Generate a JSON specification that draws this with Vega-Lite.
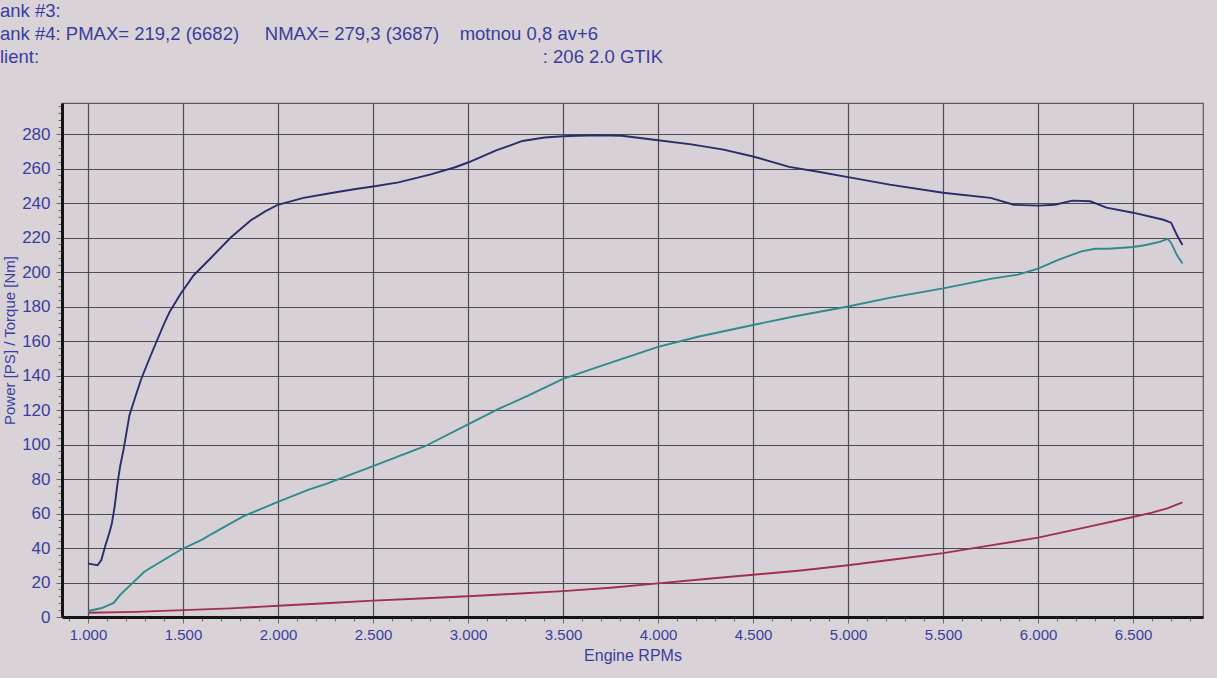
{
  "$schema": "https://vega.github.io/schema/vega-lite/v6.json",
  "autosize": "none",
  "width": 1141,
  "height": 514,
  "padding": {"left": 62, "top": 103, "right": 14, "bottom": 61},
  "background": "#d9d3d8",
  "config": {
    "view": {"fill": "#d7d1d7", "stroke": "#5a5860", "strokeWidth": 1.2},
    "font": "Liberation Sans"
  },
  "title": {
    "text": [
      "ank #3:",
      "ank #4: PMAX= 219,2 (6682)\u00a0\u00a0\u00a0\u00a0\u00a0NMAX= 279,3 (3687)\u00a0\u00a0\u00a0\u00a0motnou 0,8 av+6",
      "lient:\u00a0\u00a0\u00a0\u00a0\u00a0\u00a0\u00a0\u00a0\u00a0\u00a0\u00a0\u00a0\u00a0\u00a0\u00a0\u00a0\u00a0\u00a0\u00a0\u00a0\u00a0\u00a0\u00a0\u00a0\u00a0\u00a0\u00a0\u00a0\u00a0\u00a0\u00a0\u00a0\u00a0\u00a0\u00a0\u00a0\u00a0\u00a0\u00a0\u00a0\u00a0\u00a0\u00a0\u00a0\u00a0\u00a0\u00a0\u00a0\u00a0\u00a0\u00a0\u00a0\u00a0\u00a0\u00a0\u00a0\u00a0\u00a0\u00a0\u00a0\u00a0\u00a0\u00a0\u00a0\u00a0\u00a0\u00a0\u00a0\u00a0\u00a0\u00a0\u00a0\u00a0\u00a0\u00a0\u00a0\u00a0\u00a0\u00a0\u00a0\u00a0\u00a0\u00a0\u00a0\u00a0\u00a0\u00a0\u00a0\u00a0\u00a0\u00a0\u00a0\u00a0\u00a0\u00a0\u00a0\u00a0\u00a0: 206 2.0 GTIK"
    ],
    "anchor": "start",
    "frame": "group",
    "dx": -62,
    "offset": 37,
    "fontSize": 18.5,
    "fontWeight": "normal",
    "color": "#3b3d9e",
    "lineHeight": 23,
    "font": "Liberation Sans"
  },
  "data": {
    "values": [
      {"rpm": 1000, "value": 31, "series": "Torque"},
      {"rpm": 1025, "value": 30.5, "series": "Torque"},
      {"rpm": 1050, "value": 30, "series": "Torque"},
      {"rpm": 1070, "value": 33, "series": "Torque"},
      {"rpm": 1090, "value": 41, "series": "Torque"},
      {"rpm": 1110, "value": 48, "series": "Torque"},
      {"rpm": 1125, "value": 54, "series": "Torque"},
      {"rpm": 1140, "value": 64, "series": "Torque"},
      {"rpm": 1156, "value": 78, "series": "Torque"},
      {"rpm": 1170, "value": 88, "series": "Torque"},
      {"rpm": 1187, "value": 97, "series": "Torque"},
      {"rpm": 1218, "value": 117, "series": "Torque"},
      {"rpm": 1250, "value": 128, "series": "Torque"},
      {"rpm": 1280, "value": 138, "series": "Torque"},
      {"rpm": 1320, "value": 149, "series": "Torque"},
      {"rpm": 1358, "value": 159, "series": "Torque"},
      {"rpm": 1400, "value": 170, "series": "Torque"},
      {"rpm": 1430, "value": 177, "series": "Torque"},
      {"rpm": 1485, "value": 187, "series": "Torque"},
      {"rpm": 1555, "value": 198, "series": "Torque"},
      {"rpm": 1645, "value": 208, "series": "Torque"},
      {"rpm": 1751, "value": 220, "series": "Torque"},
      {"rpm": 1857, "value": 230, "series": "Torque"},
      {"rpm": 1930, "value": 235, "series": "Torque"},
      {"rpm": 1999, "value": 239, "series": "Torque"},
      {"rpm": 2134, "value": 243, "series": "Torque"},
      {"rpm": 2289, "value": 246, "series": "Torque"},
      {"rpm": 2400, "value": 248, "series": "Torque"},
      {"rpm": 2500, "value": 249.6, "series": "Torque"},
      {"rpm": 2634, "value": 252, "series": "Torque"},
      {"rpm": 2804, "value": 256.6, "series": "Torque"},
      {"rpm": 2928, "value": 260.6, "series": "Torque"},
      {"rpm": 3000, "value": 263.5, "series": "Torque"},
      {"rpm": 3148, "value": 270.5, "series": "Torque"},
      {"rpm": 3286, "value": 276, "series": "Torque"},
      {"rpm": 3403, "value": 278, "series": "Torque"},
      {"rpm": 3500, "value": 278.7, "series": "Torque"},
      {"rpm": 3571, "value": 279, "series": "Torque"},
      {"rpm": 3687, "value": 279.3, "series": "Torque"},
      {"rpm": 3810, "value": 279, "series": "Torque"},
      {"rpm": 4000, "value": 276.4, "series": "Torque"},
      {"rpm": 4175, "value": 274, "series": "Torque"},
      {"rpm": 4345, "value": 271, "series": "Torque"},
      {"rpm": 4500, "value": 267, "series": "Torque"},
      {"rpm": 4690, "value": 261, "series": "Torque"},
      {"rpm": 4850, "value": 258, "series": "Torque"},
      {"rpm": 5000, "value": 255, "series": "Torque"},
      {"rpm": 5219, "value": 250.7, "series": "Torque"},
      {"rpm": 5500, "value": 246, "series": "Torque"},
      {"rpm": 5750, "value": 243, "series": "Torque"},
      {"rpm": 5872, "value": 239, "series": "Torque"},
      {"rpm": 6000, "value": 238.5, "series": "Torque"},
      {"rpm": 6088, "value": 239, "series": "Torque"},
      {"rpm": 6180, "value": 241.4, "series": "Torque"},
      {"rpm": 6275, "value": 241, "series": "Torque"},
      {"rpm": 6360, "value": 237.3, "series": "Torque"},
      {"rpm": 6500, "value": 234.4, "series": "Torque"},
      {"rpm": 6660, "value": 230.3, "series": "Torque"},
      {"rpm": 6700, "value": 228.6, "series": "Torque"},
      {"rpm": 6730, "value": 221.6, "series": "Torque"},
      {"rpm": 6760, "value": 215.7, "series": "Torque"},

      {"rpm": 1000, "value": 3.5, "series": "Power"},
      {"rpm": 1073, "value": 5.2, "series": "Power"},
      {"rpm": 1135, "value": 8.2, "series": "Power"},
      {"rpm": 1170, "value": 13, "series": "Power"},
      {"rpm": 1213, "value": 17.5, "series": "Power"},
      {"rpm": 1296, "value": 26.2, "series": "Power"},
      {"rpm": 1400, "value": 33.2, "series": "Power"},
      {"rpm": 1488, "value": 39, "series": "Power"},
      {"rpm": 1603, "value": 45, "series": "Power"},
      {"rpm": 1645, "value": 47.8, "series": "Power"},
      {"rpm": 1816, "value": 58.3, "series": "Power"},
      {"rpm": 1993, "value": 66.5, "series": "Power"},
      {"rpm": 2165, "value": 74, "series": "Power"},
      {"rpm": 2250, "value": 77, "series": "Power"},
      {"rpm": 2500, "value": 87.5, "series": "Power"},
      {"rpm": 2773, "value": 99, "series": "Power"},
      {"rpm": 3000, "value": 111.7, "series": "Power"},
      {"rpm": 3158, "value": 120.5, "series": "Power"},
      {"rpm": 3316, "value": 128.3, "series": "Power"},
      {"rpm": 3500, "value": 138, "series": "Power"},
      {"rpm": 3712, "value": 146, "series": "Power"},
      {"rpm": 4000, "value": 156.6, "series": "Power"},
      {"rpm": 4210, "value": 162.5, "series": "Power"},
      {"rpm": 4500, "value": 169.3, "series": "Power"},
      {"rpm": 4715, "value": 174.2, "series": "Power"},
      {"rpm": 5000, "value": 180, "series": "Power"},
      {"rpm": 5217, "value": 185, "series": "Power"},
      {"rpm": 5500, "value": 190.5, "series": "Power"},
      {"rpm": 5750, "value": 196, "series": "Power"},
      {"rpm": 5894, "value": 198.5, "series": "Power"},
      {"rpm": 6000, "value": 202, "series": "Power"},
      {"rpm": 6106, "value": 207, "series": "Power"},
      {"rpm": 6228, "value": 212, "series": "Power"},
      {"rpm": 6300, "value": 213.5, "series": "Power"},
      {"rpm": 6372, "value": 213.5, "series": "Power"},
      {"rpm": 6500, "value": 214.5, "series": "Power"},
      {"rpm": 6560, "value": 215.5, "series": "Power"},
      {"rpm": 6640, "value": 217.5, "series": "Power"},
      {"rpm": 6682, "value": 219.2, "series": "Power"},
      {"rpm": 6700, "value": 217, "series": "Power"},
      {"rpm": 6730, "value": 210, "series": "Power"},
      {"rpm": 6760, "value": 205, "series": "Power"},

      {"rpm": 1000, "value": 2.5, "series": "Loss"},
      {"rpm": 1250, "value": 3, "series": "Loss"},
      {"rpm": 1500, "value": 4, "series": "Loss"},
      {"rpm": 1750, "value": 5, "series": "Loss"},
      {"rpm": 2000, "value": 6.5, "series": "Loss"},
      {"rpm": 2250, "value": 8, "series": "Loss"},
      {"rpm": 2500, "value": 9.5, "series": "Loss"},
      {"rpm": 2750, "value": 10.7, "series": "Loss"},
      {"rpm": 3000, "value": 12, "series": "Loss"},
      {"rpm": 3250, "value": 13.5, "series": "Loss"},
      {"rpm": 3500, "value": 15, "series": "Loss"},
      {"rpm": 3750, "value": 17, "series": "Loss"},
      {"rpm": 4000, "value": 19.5, "series": "Loss"},
      {"rpm": 4250, "value": 22, "series": "Loss"},
      {"rpm": 4500, "value": 24.5, "series": "Loss"},
      {"rpm": 4750, "value": 27, "series": "Loss"},
      {"rpm": 5000, "value": 30, "series": "Loss"},
      {"rpm": 5250, "value": 33.5, "series": "Loss"},
      {"rpm": 5500, "value": 37, "series": "Loss"},
      {"rpm": 5750, "value": 41.5, "series": "Loss"},
      {"rpm": 6000, "value": 46, "series": "Loss"},
      {"rpm": 6250, "value": 52, "series": "Loss"},
      {"rpm": 6500, "value": 58, "series": "Loss"},
      {"rpm": 6600, "value": 60.5, "series": "Loss"},
      {"rpm": 6680, "value": 63, "series": "Loss"},
      {"rpm": 6760, "value": 66.5, "series": "Loss"}
    ]
  },
  "layer": [
    {
      "mark": {"type": "line", "strokeOpacity": 0},
      "encoding": {
        "x": {
          "field": "rpm", "type": "quantitative",
          "scale": {"domain": [863, 6868], "nice": false, "zero": false},
          "axis": {
            "values": [900,1000,1100,1200,1300,1400,1500,1600,1700,1800,1900,2000,2100,2200,2300,2400,2500,2600,2700,2800,2900,3000,3100,3200,3300,3400,3500,3600,3700,3800,3900,4000,4100,4200,4300,4400,4500,4600,4700,4800,4900,5000,5100,5200,5300,5400,5500,5600,5700,5800,5900,6000,6100,6200,6300,6400,6500,6600,6700,6800],
            "labels": false, "grid": false, "domain": false, "title": null,
            "ticks": true, "tickSize": 4, "tickColor": "#6a6870", "tickWidth": 1, "orient": "bottom"
          }
        },
        "y": {
          "field": "value", "type": "quantitative",
          "scale": {"domain": [0, 298], "nice": false},
          "axis": {
            "values": [0,4,8,12,16,20,24,28,32,36,40,44,48,52,56,60,64,68,72,76,80,84,88,92,96,100,104,108,112,116,120,124,128,132,136,140,144,148,152,156,160,164,168,172,176,180,184,188,192,196,200,204,208,212,216,220,224,228,232,236,240,244,248,252,256,260,264,268,272,276,280,284,288,292,296],
            "labels": false, "grid": false, "domain": false, "title": null,
            "ticks": true, "tickSize": 4, "tickColor": "#6a6870", "tickWidth": 1, "orient": "left"
          }
        },
        "detail": {"field": "series"}
      }
    },
    {
      "mark": {"type": "line", "strokeWidth": 1.9, "interpolate": "linear"},
      "encoding": {
        "x": {
          "field": "rpm", "type": "quantitative",
          "scale": {"domain": [863, 6868], "nice": false, "zero": false},
          "axis": {
            "values": [1000,1500,2000,2500,3000,3500,4000,4500,5000,5500,6000,6500],
            "labelExpr": "replace(format(datum.value, ',d'), ',', '.')",
            "grid": true, "gridColor": "#4d4b55", "gridWidth": 1.2, "gridOpacity": 1,
            "domain": true, "domainColor": "#141414", "domainWidth": 3,
            "ticks": true, "tickSize": 6, "tickColor": "#6a6870",
            "labelFont": "Liberation Sans", "labelFontSize": 15, "labelColor": "#3b3d9e", "labelPadding": 4,
            "title": "Engine RPMs", "titleFont": "Liberation Sans", "titleFontSize": 16, "titleFontWeight": "normal",
            "titleColor": "#3b3d9e", "titlePadding": 5, "orient": "bottom"
          }
        },
        "y": {
          "field": "value", "type": "quantitative",
          "scale": {"domain": [0, 298], "nice": false},
          "axis": {
            "values": [0,20,40,60,80,100,120,140,160,180,200,220,240,260,280],
            "grid": true, "gridColor": "#4d4b55", "gridWidth": 1.2, "gridOpacity": 1,
            "domain": true, "domainColor": "#141414", "domainWidth": 3,
            "ticks": true, "tickSize": 6, "tickColor": "#6a6870",
            "labelFont": "Liberation Sans", "labelFontSize": 17, "labelColor": "#3b3d9e", "labelPadding": 6,
            "title": "Power [PS] / Torque [Nm]", "titleFont": "Liberation Sans", "titleFontSize": 15,
            "titleFontWeight": "normal", "titleColor": "#3b3d9e",
            "titleX": -53, "titleY": 237, "titleAngle": 270, "titleAlign": "center", "titleBaseline": "middle",
            "orient": "left"
          }
        },
        "color": {
          "field": "series", "type": "nominal",
          "scale": {"domain": ["Loss", "Power", "Torque"], "range": ["#a0304f", "#2f8a8c", "#2a2c6c"]},
          "legend": null
        }
      }
    }
  ],
  "resolve": {"axis": {"x": "independent", "y": "independent"}}
}
